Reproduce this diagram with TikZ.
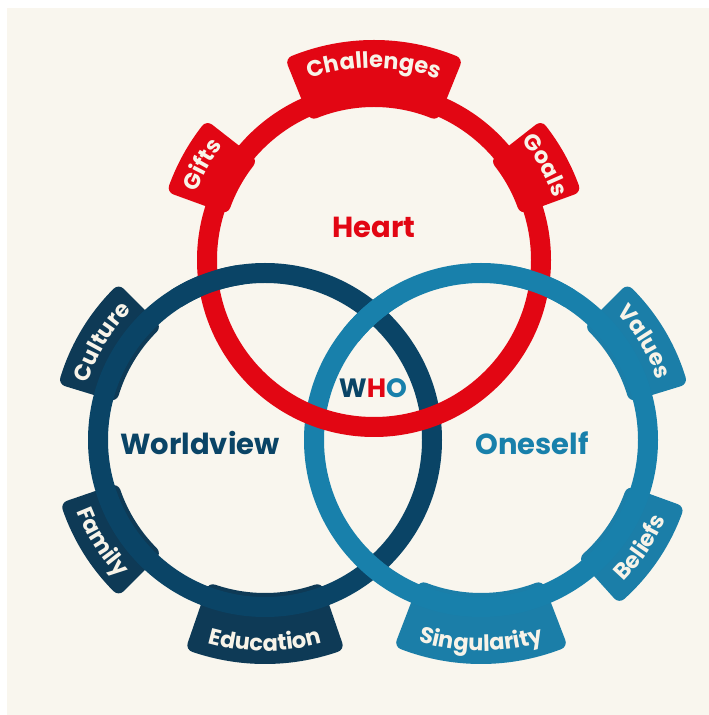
\documentclass[tikz,border=0pt]{standalone}
\usepackage{fontspec}
\setmainfont{Poppins}
\usetikzlibrary{decorations.text}
\definecolor{cream}{HTML}{F9F6EE}
\definecolor{hred}{HTML}{E20613}
\definecolor{wblue}{HTML}{0A4466}
\definecolor{wtab}{HTML}{0E3A56}
\definecolor{oblue}{HTML}{1880AB}
\definecolor{otab}{HTML}{1B7EA8}
\definecolor{labtxt}{HTML}{F7F3E8}
\newcommand\labfont{\fontsize{22.5}{22.5}\selectfont\bfseries}
\tikzset{
  ring/.style={line width=20pt},
  tabfill/.style={fill=#1,draw=#1,line width=14pt,line join=round},
  mainlab/.style={font=\fontsize{29}{29}\selectfont\bfseries},
}
% #1 cx, #2 cy, #3 angle, #4 half span, #5 outer radius, #6 colour, #7 text
\newcommand\toptab[7]{%
  \path[tabfill=#6,shift={(#1,#2)}]
    ({#3-#4+2}:160pt) arc[start angle={#3-#4+2},end angle={#3+#4-2},radius=160pt]
    -- ({#3+#4-2}:{#5pt-7pt}) arc[start angle={#3+#4-2},end angle={#3-#4+2},radius={#5pt-7pt}] -- cycle;
  \path[shift={(#1,#2)},decorate,decoration={text along path,text align=center,text color=labtxt,text={|\labfont|#7}}]
    ({#3+#4}:{#5pt-28pt}) arc[start angle={#3+#4},end angle={#3-#4},radius={#5pt-28pt}];
}
\newcommand\bottab[7]{%
  \path[tabfill=#6,shift={(#1,#2)}]
    ({#3-#4+2}:160pt) arc[start angle={#3-#4+2},end angle={#3+#4-2},radius=160pt]
    -- ({#3+#4-2}:{#5pt-7pt}) arc[start angle={#3+#4-2},end angle={#3-#4+2},radius={#5pt-7pt}] -- cycle;
  \path[shift={(#1,#2)},decorate,decoration={text along path,text align=center,text color=labtxt,text={|\labfont|#7}}]
    ({#3-#4}:{#5pt-13pt}) arc[start angle={#3-#4},end angle={#3+#4},radius={#5pt-13pt}];
}
\begin{document}
\begin{tikzpicture}[x=1pt,y=1pt]
\useasboundingbox (0,0) rectangle (709,715);
\fill[white] (0,0) rectangle (709,715);
\fill[cream] (7,0) rectangle (709,707);
% tabs
\toptab{374}{455}{90}{24}{220}{hred}{Challenges}
\toptab{374}{455}{151}{11}{218}{hred}{Gifts}
\toptab{374}{455}{29}{11}{218}{hred}{Goals}
\toptab{265}{275}{149}{16}{214}{wtab}{Culture}
\bottab{265}{275}{212}{15}{214}{wtab}{Family}
\bottab{265}{275}{270}{21}{224}{wtab}{Education}
\toptab{481}{275}{31}{16}{214}{otab}{Values}
\bottab{481}{275}{326}{16}{214}{otab}{Beliefs}
\bottab{481}{275}{270}{23}{224}{otab}{Singularity}
% rings
\draw[ring,wblue] (265,275) circle[radius=167pt];
\draw[ring,oblue] (481,275) circle[radius=167pt];
\draw[ring,hred] (374,455) circle[radius=167pt];
% weaving: blues over red at the upper crossings
\draw[ring,wblue,shift={(265,275)}] (98:167pt) arc[start angle=98,end angle=122,radius=167pt];
\draw[ring,oblue,shift={(481,275)}] (58:167pt) arc[start angle=58,end angle=82,radius=167pt];
% light blue over dark blue at the top crossing
\draw[ring,oblue,shift={(481,275)}] (120:167pt) arc[start angle=120,end angle=141,radius=167pt];
% labels
\node[mainlab,text=hred] (heart) at (374,488) {Heart};
\node[mainlab,text=wblue] (worldview) at (200,272) {Worldview};
\node[mainlab,text=oblue] (oneself) at (532,272) {Oneself};
\node[mainlab,font=\fontsize{26.5}{26.5}\selectfont\bfseries] (who) at (373,327) {\textcolor{wblue}{W}\textcolor{hred}{H}\textcolor{oblue}{O}};
\end{tikzpicture}
\end{document}
